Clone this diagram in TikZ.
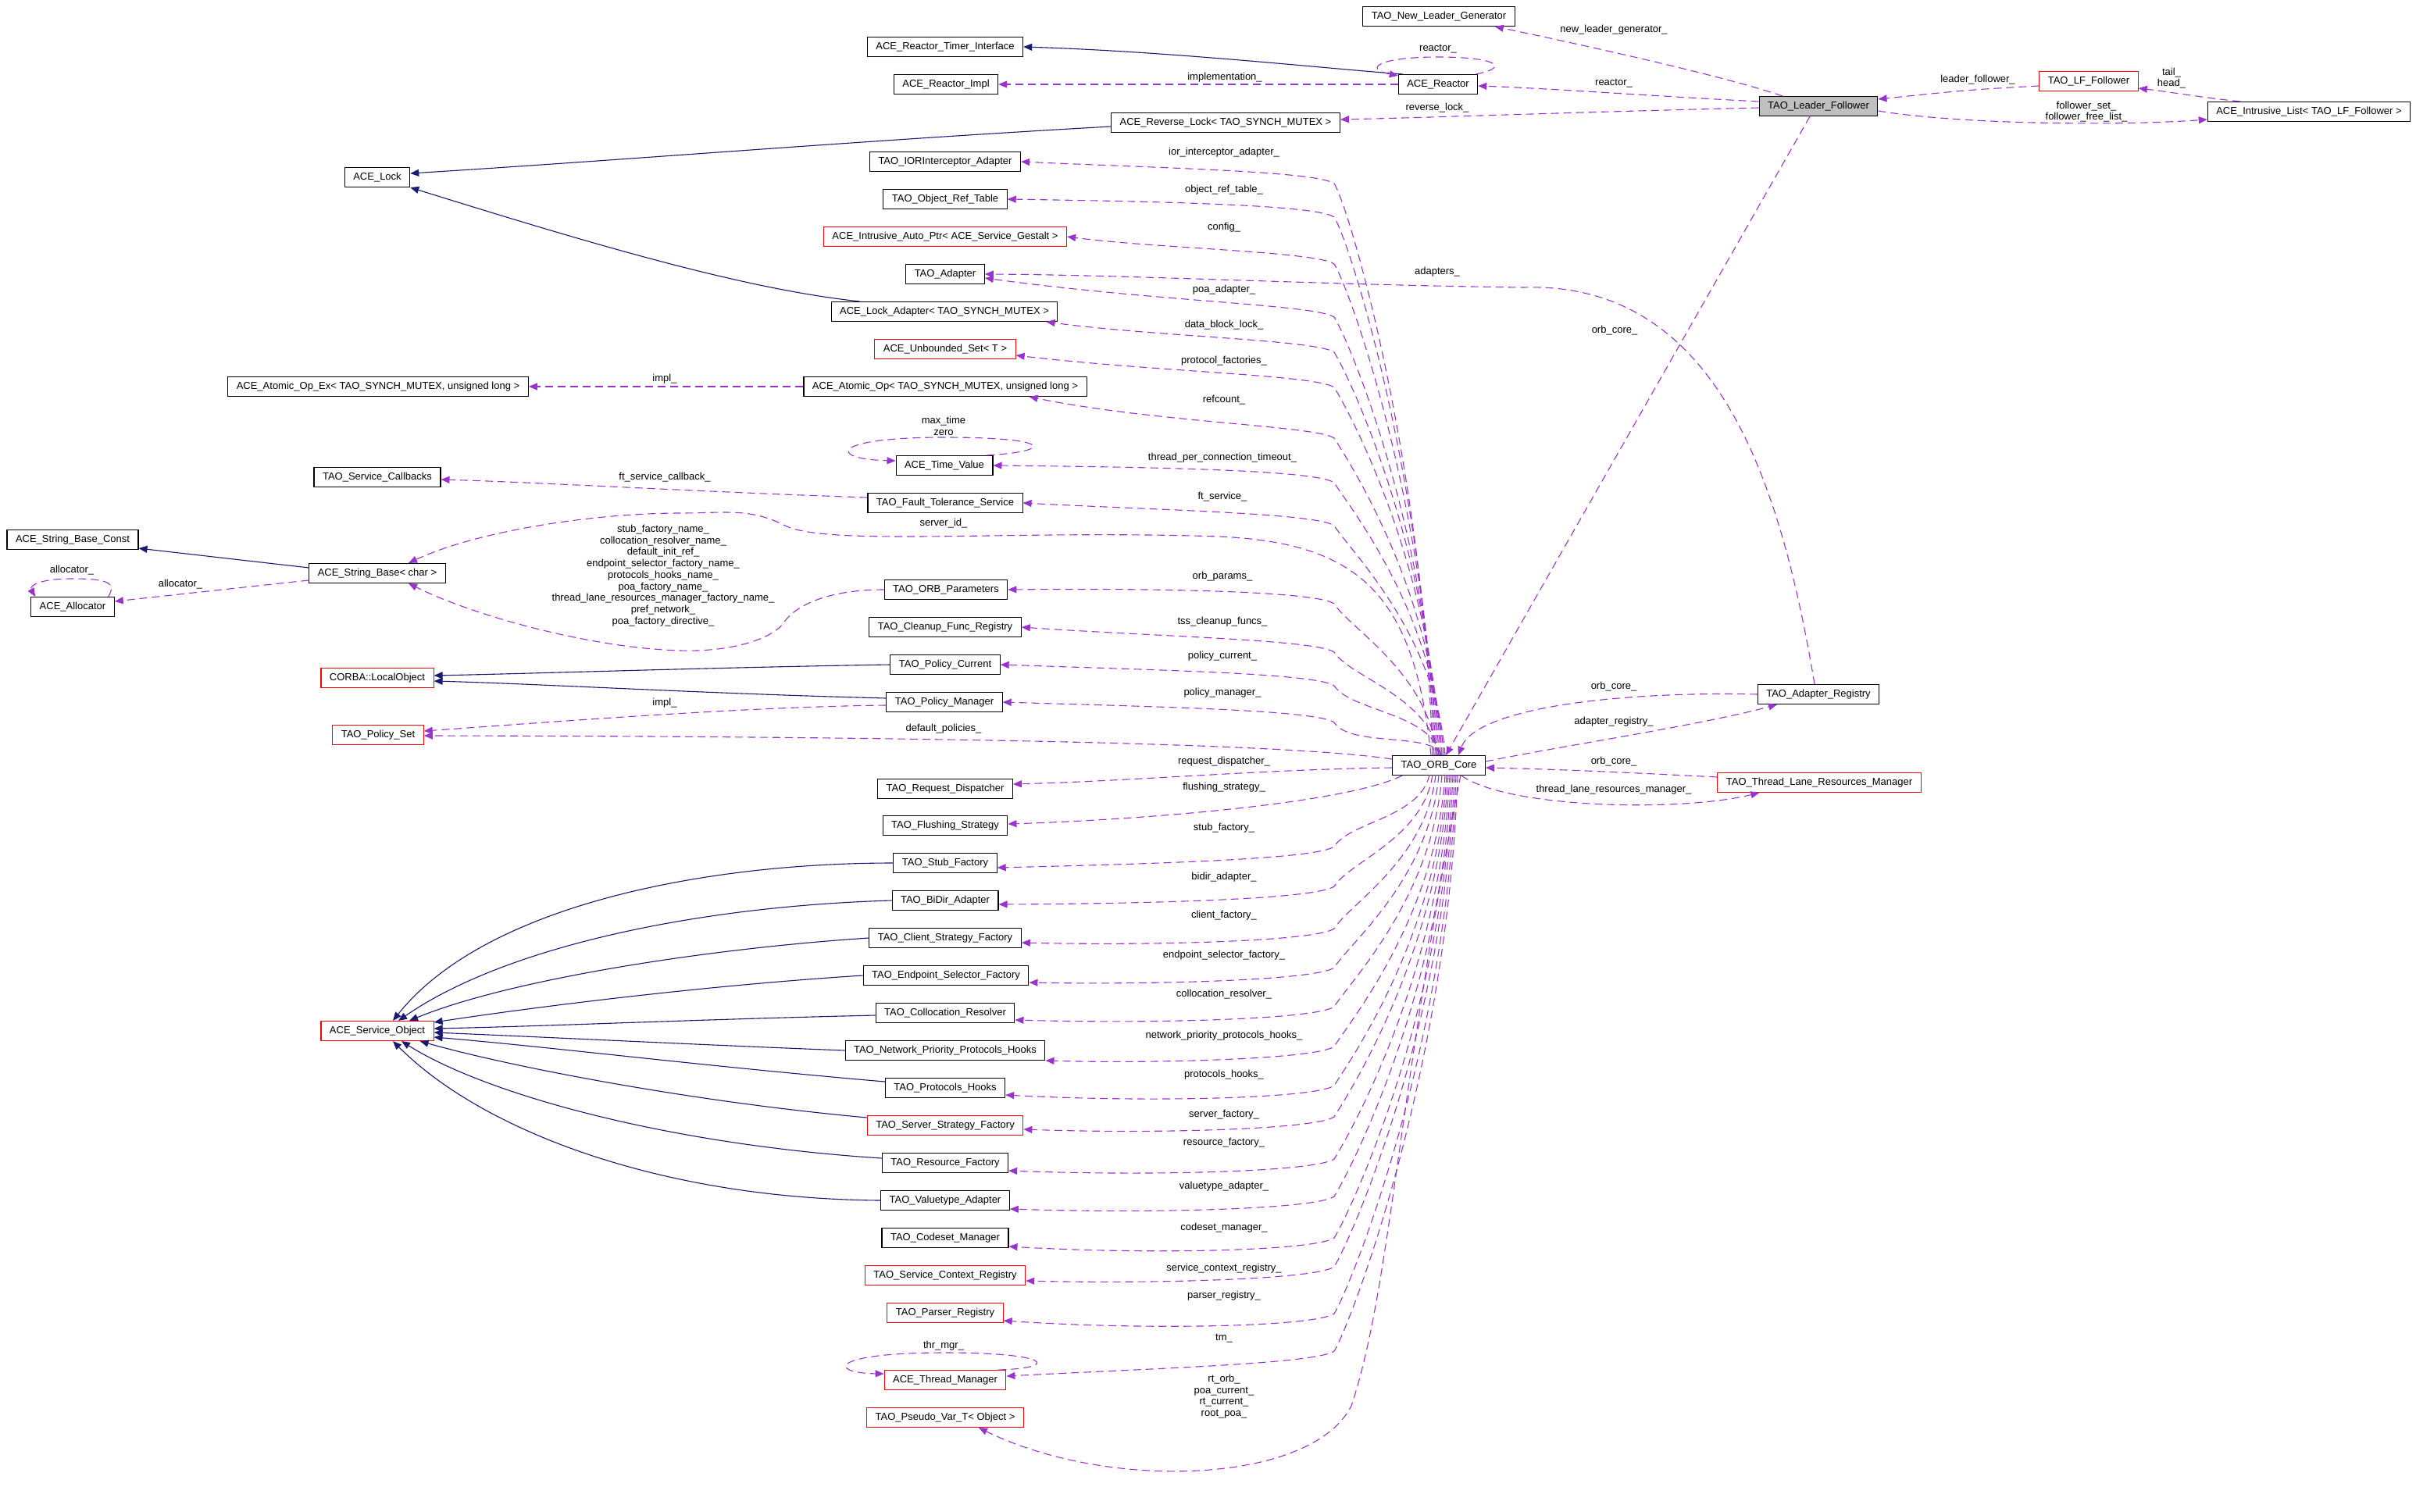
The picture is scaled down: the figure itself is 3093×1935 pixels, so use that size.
\documentclass[tikz,border=0pt]{standalone}
\usepackage{fontspec}
\setmainfont{Liberation Sans}
\usepackage{xcolor}
\usetikzlibrary{arrows.meta, calc}

\definecolor{inhblue}{HTML}{191970}
\definecolor{mempurple}{HTML}{9A32CD}
\definecolor{lfgray}{HTML}{BFBFBF}

\begin{document}
\begin{tikzpicture}[
    x=1pt, y=-1pt,
    box/.style={draw, rectangle, fill=white, line width=1.1pt, minimum height=25pt, inner xsep=11pt, inner ysep=2pt, font=\fontsize{13}{15}\selectfont},
    redbox/.style={box, draw=red},
    inherit/.style={-{Triangle[length=11pt, width=9pt]}, draw=inhblue, line width=1.1pt},
    member/.style={-{Triangle[length=11pt, width=9pt]}, draw=mempurple, line width=1.1pt, dash pattern=on 10pt off 6pt},
    lbl/.style={font=\fontsize{13}{14.7}\selectfont, inner sep=0pt, align=center, text=black},
]
\useasboundingbox (0,0) rectangle (3093,1935);

% Leader/follower group
\node[box, fill=lfgray] (lf) at (2328,136) {TAO\_Leader\_Follower};
\node[redbox] (lff) at (2674,104) {TAO\_LF\_Follower};
\node[box] (ilist) at (2956,143) {ACE\_Intrusive\_List< TAO\_LF\_Follower >};
\node[box] (nlg) at (1842,21) {TAO\_New\_Leader\_Generator};

% Reactor and locks
\node[box] (timer) at (1210,60) {ACE\_Reactor\_Timer\_Interface};
\node[box] (reactorimpl) at (1211,108) {ACE\_Reactor\_Impl};
\node[box] (reactor) at (1841,108) {ACE\_Reactor};
\node[box] (revlock) at (1569,157) {ACE\_Reverse\_Lock< TAO\_SYNCH\_MUTEX >};
\node[box] (lock) at (483,227) {ACE\_Lock};

% Members of the ORB core (upper column)
\node[box] (iorint) at (1210,207) {TAO\_IORInterceptor\_Adapter};
\node[box] (oref) at (1210,255) {TAO\_Object\_Ref\_Table};
\node[redbox] (gestalt) at (1210,303) {ACE\_Intrusive\_Auto\_Ptr< ACE\_Service\_Gestalt >};
\node[box] (adapter) at (1210,351) {TAO\_Adapter};
\node[box] (lockad) at (1209,399) {ACE\_Lock\_Adapter< TAO\_SYNCH\_MUTEX >};
\node[redbox] (uset) at (1210,447) {ACE\_Unbounded\_Set< T >};
\node[box] (atomicex) at (484,495) {ACE\_Atomic\_Op\_Ex< TAO\_SYNCH\_MUTEX, unsigned long >};
\node[box] (atomic) at (1210,495) {ACE\_Atomic\_Op< TAO\_SYNCH\_MUTEX, unsigned long >};
\node[box] (tv) at (1209,596) {ACE\_Time\_Value};
\node[box] (svccb) at (483,611) {TAO\_Service\_Callbacks};
\node[box] (fts) at (1210,644) {TAO\_Fault\_Tolerance\_Service};
\node[box] (sbconst) at (93,691) {ACE\_String\_Base\_Const};
\node[box] (sbase) at (483,734) {ACE\_String\_Base< char >};
\node[box] (alloc) at (93,777) {ACE\_Allocator};
\node[box] (orbp) at (1211,755) {TAO\_ORB\_Parameters};
\node[box] (cleanup) at (1210,803) {TAO\_Cleanup\_Func\_Registry};
\node[redbox] (lobj) at (483,868) {CORBA::LocalObject};
\node[box] (pcur) at (1210,851) {TAO\_Policy\_Current};
\node[box] (pman) at (1209,899) {TAO\_Policy\_Manager};
\node[redbox] (pset) at (484,941) {TAO\_Policy\_Set};

% ORB core and its neighbours on the right
\node[box] (orb) at (1842,980) {TAO\_ORB\_Core};
\node[box] (areg) at (2328,889) {TAO\_Adapter\_Registry};
\node[redbox] (tlrm) at (2329,1002) {TAO\_Thread\_Lane\_Resources\_Manager};

% Members of the ORB core (lower column)
\node[box] (reqd) at (1210,1010) {TAO\_Request\_Dispatcher};
\node[box] (flush) at (1210,1057) {TAO\_Flushing\_Strategy};
\node[box] (stub) at (1210,1105) {TAO\_Stub\_Factory};
\node[box] (bidir) at (1210,1153) {TAO\_BiDir\_Adapter};
\node[box] (csf) at (1210,1201) {TAO\_Client\_Strategy\_Factory};
\node[box] (esf) at (1211,1249) {TAO\_Endpoint\_Selector\_Factory};
\node[box] (colres) at (1210,1297) {TAO\_Collocation\_Resolver};
\node[redbox] (so) at (483,1320) {ACE\_Service\_Object};
\node[box] (nph) at (1210,1345) {TAO\_Network\_Priority\_Protocols\_Hooks};
\node[box] (ph) at (1210,1393) {TAO\_Protocols\_Hooks};
\node[redbox] (ssf) at (1210,1441) {TAO\_Server\_Strategy\_Factory};
\node[box] (rf) at (1210,1489) {TAO\_Resource\_Factory};
\node[box] (vta) at (1210,1537) {TAO\_Valuetype\_Adapter};
\node[box] (csm) at (1210,1585) {TAO\_Codeset\_Manager};
\node[redbox] (scr) at (1210,1633) {TAO\_Service\_Context\_Registry};
\node[redbox] (parser) at (1210,1681) {TAO\_Parser\_Registry};
\node[redbox] (thrmgr) at (1210,1767) {ACE\_Thread\_Manager};
\node[redbox] (pseudo) at (1210,1815) {TAO\_Pseudo\_Var\_T< Object >};

% Inheritance
\draw[inherit] ($(reactor.north west)+(6,0)$) .. controls (1700,88) and (1500,66) .. (timer.east);
\draw[inherit] ($(revlock.west)+(0,5)$) .. controls (1100,180) and (800,205) .. ($(lock.east)+(0,-5)$);
\draw[inherit] ($(lockad.north west)+(37,0)$) .. controls (950,370) and (750,310) .. (lock.south east);
\draw[inherit] ($(sbase.north west)+(0,6)$) -- ($(sbconst.south east)+(0,-2)$);
\draw[inherit] (pcur.west) .. controls (900,855) and (700,862) .. ($(lobj.east)+(0,-3)$);
\draw[inherit] ($(pman.west)+(0,-5)$) .. controls (900,888) and (700,876) .. ($(lobj.east)+(0,4)$);
\draw[inherit] (stub.west) .. controls (900,1105) and (620,1160) .. ($(so.north)+(20,0)$);
\draw[inherit] (bidir.west) .. controls (900,1160) and (650,1210) .. ($(so.north)+(27,0)$);
\draw[inherit] (csf.west) .. controls (900,1215) and (650,1255) .. ($(so.north)+(41,0)$);
\draw[inherit] (esf.west) .. controls (900,1262) and (680,1290) .. ($(so.east)+(0,-11)$);
\draw[inherit] ($(colres.west)+(0,3)$) .. controls (900,1305) and (700,1314) .. ($(so.east)+(0,-3)$);
\draw[inherit] (nph.west) .. controls (900,1338) and (700,1328) .. ($(so.east)+(0,2)$);
\draw[inherit] ($(ph.west)+(0,-8)$) .. controls (900,1365) and (700,1340) .. ($(so.east)+(0,8)$);
\draw[inherit] ($(ssf.west)+(0,-10)$) .. controls (880,1410) and (650,1365) .. ($(so.south east)+(-18,0)$);
\draw[inherit] ($(rf.west)+(0,-6)$) .. controls (850,1465) and (620,1400) .. ($(so.south)+(31,0)$);
\draw[inherit] (vta.west) .. controls (850,1535) and (620,1450) .. ($(so.south)+(20,0)$);

% Leader/follower members
\draw[member] ($(lf.north)+(-46,0)$) .. controls (2200,95) and (2000,52) .. ($(nlg.south east)+(-26,0)$) node[lbl] at (2066,38) {new\_leader\_generator\_};
\draw[member] ($(lf.west)+(0,-6)$) .. controls (2100,122) and (1980,113) .. ($(reactor.east)+(0,2)$) node[lbl] at (2066,107) {reactor\_};
\draw[member] ($(lf.west)+(0,2)$) .. controls (2000,144) and (1850,150) .. ($(revlock.east)+(0,-4)$) node[lbl] at (1840,138) {reverse\_lock\_};
\draw[member] ($(lf.south)+(-11,0)$) -- ($(orb.north)+(9,0)$) node[lbl] at (2067,423) {orb\_core\_};
\draw[member] ($(lff.west)+(0,6)$) .. controls (2520,115) .. ($(lf.east)+(0,-9)$) node[lbl] at (2532,102) {leader\_follower\_};
\draw[member] ($(lf.east)+(0,6)$) .. controls (2500,158) and (2700,162) .. ($(ilist.west)+(0,10)$) node[lbl] at (2671,143) {follower\_set\_\\follower\_free\_list\_};
\draw[member] ($(ilist.north west)+(42,0)$) .. controls (2820,125) and (2780,118) .. ($(lff.east)+(0,9)$) node[lbl] at (2780,100) {tail\_\\head\_};

% Reactor members
\draw[member] (reactor.west) -- (reactorimpl.east) node[lbl] at (1568,99) {implementation\_};
\draw[member] ($(reactor.north east)+(-3,0)$) .. controls (1935,86) and (1915,73) .. (1841,73) .. controls (1765,73) and (1745,88) .. ($(reactor.north west)+(0,2)$) node[lbl] at (1841,63) {reactor\_};

% ORB core members, upper column
\draw[member] (1834,967) .. controls (1822,592) and (1728,267) .. (1708,235) .. controls (1685,219) and (1480,215) .. (iorint.east) node[lbl] at (1567,195) {ior\_interceptor\_adapter\_};
\draw[member] (1836,967) .. controls (1824,614) and (1728,310) .. (1708,278) .. controls (1685,262) and (1480,258) .. (oref.east) node[lbl] at (1567,243) {object\_ref\_table\_};
\draw[member] (1838,967) .. controls (1826,644) and (1728,370) .. (1708,338) .. controls (1685,322) and (1480,318) .. (gestalt.east) node[lbl] at (1567,291) {config\_};
\draw[member] (1840,967) .. controls (1828,678) and (1728,438) .. (1708,406) .. controls (1685,390) and (1480,386) .. ($(adapter.east)+(0,5)$) node[lbl] at (1567,371) {poa\_adapter\_};
\draw[member] (1842,967) .. controls (1830,700) and (1728,483) .. (1708,451) .. controls (1685,435) and (1480,431) .. ($(lockad.south east)+(-15,0)$) node[lbl] at (1567,416) {data\_block\_lock\_};
\draw[member] (1844,967) .. controls (1832,722) and (1728,528) .. (1708,496) .. controls (1685,480) and (1480,476) .. ($(uset.east)+(0,8)$) node[lbl] at (1567,462) {protocol\_factories\_};
\draw[member] (1846,967) .. controls (1834,755) and (1728,593) .. (1708,561) .. controls (1685,545) and (1480,541) .. ($(atomic.south east)+(-74,0)$) node[lbl] at (1567,512) {refcount\_};
\draw[member] (1848,967) .. controls (1836,783) and (1728,650) .. (1708,618) .. controls (1685,602) and (1480,598) .. (tv.east) node[lbl] at (1565,586) {thread\_per\_connection\_timeout\_};
\draw[member] (1850,967) .. controls (1838,811) and (1728,705) .. (1708,673) .. controls (1685,657) and (1480,653) .. (fts.east) node[lbl] at (1565,636) {ft\_service\_};
\draw[member] (1840,967) .. controls (1828,861) and (1728,805) .. (1708,773) .. controls (1685,757) and (1480,753) .. (orbp.east) node[lbl] at (1565,738) {orb\_params\_};
\draw[member] (1842,967) .. controls (1830,892) and (1728,867) .. (1708,835) .. controls (1685,819) and (1480,815) .. (cleanup.east) node[lbl] at (1565,796) {tss\_cleanup\_funcs\_};
\draw[member] (1844,967) .. controls (1832,913) and (1728,910) .. (1708,878) .. controls (1685,862) and (1480,858) .. (pcur.east) node[lbl] at (1565,840) {policy\_current\_};
\draw[member] (1846,967) .. controls (1834,937) and (1728,957) .. (1708,925) .. controls (1685,909) and (1480,905) .. (pman.east) node[lbl] at (1565,887) {policy\_manager\_};
\draw[member] (1832,967) .. controls (1810,760) and (1740,695) .. (1560,687) .. controls (1300,678) and (1060,700) .. (1005,673) .. controls (960,650) and (930,657) .. (871,657) .. controls (760,657) and (610,680) .. ($(sbase.north)+(40,0)$) node[lbl] at (1208,670) {server\_id\_};
\draw[member] ($(orb.west)+(0,-8)$) .. controls (1650,952) and (1200,943) .. ($(pset.east)+(0,1)$) node[lbl] at (1208,933) {default\_policies\_};

% Other members on the left
\draw[member] (atomic.west) -- (atomicex.east) node[lbl] at (851,485) {impl\_};
\draw[member] ($(tv.north east)+(-8,0)$) .. controls (1350,578) and (1350,560) .. (1209,560) .. controls (1060,560) and (1060,588) .. ($(tv.west)+(0,-6)$) node[lbl] at (1208,545) {max\_time\\zero};
\draw[member] ($(fts.west)+(0,-7)$) .. controls (900,630) and (700,618) .. ($(svccb.east)+(0,3)$) node[lbl] at (851,611) {ft\_service\_callback\_};
\draw[member] (orbp.west) .. controls (1060,755) and (1020,775) .. (1005,795) .. controls (990,820) and (930,835) .. (871,833) .. controls (760,830) and (610,790) .. ($(sbase.south)+(40,0)$) node[lbl] at (849,737) {stub\_factory\_name\_\\collocation\_resolver\_name\_\\default\_init\_ref\_\\endpoint\_selector\_factory\_name\_\\protocols\_hooks\_name\_\\poa\_factory\_name\_\\thread\_lane\_resources\_manager\_factory\_name\_\\pref\_network\_\\poa\_factory\_directive\_};
\draw[member] ($(sbase.west)+(0,9)$) .. controls (330,750) and (220,762) .. ($(alloc.east)+(0,-7)$) node[lbl] at (231,748) {allocator\_};
\draw[member] ($(alloc.north east)+(-8,0)$) .. controls (150,745) and (135,741) .. (92,741) .. controls (45,741) and (38,752) .. ($(alloc.north west)+(6,0)$) node[lbl] at (92,730) {allocator\_};
\draw[member] ($(pman.west)+(0,4)$) .. controls (950,905) and (700,925) .. ($(pset.east)+(0,-5)$) node[lbl] at (851,900) {impl\_};

% Adapter registry and thread lane resources
\draw[member] ($(areg.north)+(-5,0)$) .. controls (2280,620) and (2200,360) .. (1950,368) .. controls (1700,365) and (1450,352) .. (adapter.east) node[lbl] at (1840,348) {adapters\_};
\draw[member] (areg.west) .. controls (2080,885) and (1890,905) .. ($(orb.north)+(25,0)$) node[lbl] at (2066,879) {orb\_core\_};
\draw[member] ($(orb.east)+(0,-5)$) .. controls (2000,955) and (2180,928) .. ($(areg.south)+(-53,0)$) node[lbl] at (2066,924) {adapter\_registry\_};
\draw[member] ($(tlrm.west)+(0,-7)$) .. controls (2100,990) and (2000,985) .. ($(orb.east)+(0,3)$) node[lbl] at (2066,975) {orb\_core\_};
\draw[member] ($(orb.south east)+(-31,0)$) .. controls (1930,1035) and (2150,1040) .. ($(tlrm.south west)+(54,0)$) node[lbl] at (2066,1011) {thread\_lane\_resources\_manager\_};

% ORB core members, lower column
\draw[member] ($(orb.west)+(0,3)$) .. controls (1620,985) and (1450,1000) .. ($(reqd.east)+(0,-6)$) node[lbl] at (1567,975) {request\_dispatcher\_};
\draw[member] ($(orb.south west)+(13,0)$) .. controls (1720,1030) and (1450,1050) .. ($(flush.east)+(0,-2)$) node[lbl] at (1567,1008) {flushing\_strategy\_};
\draw[member] (1830,992) .. controls (1818,1047) and (1728,1052) .. (1708,1084) .. controls (1685,1100) and (1480,1106) .. ($(stub.east)+(0,6)$) node[lbl] at (1567,1060) {stub\_factory\_};
\draw[member] (1834,992) .. controls (1822,1073) and (1728,1103) .. (1708,1135) .. controls (1685,1151) and (1480,1157) .. ($(bidir.east)+(0,5)$) node[lbl] at (1567,1123) {bidir\_adapter\_};
\draw[member] (1838,992) .. controls (1826,1100) and (1728,1157) .. (1708,1189) .. controls (1685,1205) and (1480,1211) .. ($(csf.east)+(0,6)$) node[lbl] at (1567,1172) {client\_factory\_};
\draw[member] (1842,992) .. controls (1830,1125) and (1728,1207) .. (1708,1239) .. controls (1685,1255) and (1480,1261) .. ($(esf.east)+(0,9)$) node[lbl] at (1567,1223) {endpoint\_selector\_factory\_};
\draw[member] (1846,992) .. controls (1834,1150) and (1728,1257) .. (1708,1289) .. controls (1685,1305) and (1480,1311) .. ($(colres.east)+(0,9)$) node[lbl] at (1567,1273) {collocation\_resolver\_};
\draw[member] (1850,992) .. controls (1838,1175) and (1728,1308) .. (1708,1340) .. controls (1685,1356) and (1480,1362) .. ($(nph.east)+(0,13)$) node[lbl] at (1567,1326) {network\_priority\_protocols\_hooks\_};
\draw[member] (1852,992) .. controls (1840,1200) and (1728,1358) .. (1708,1390) .. controls (1685,1406) and (1480,1412) .. ($(ph.east)+(0,9)$) node[lbl] at (1567,1376) {protocols\_hooks\_};
\draw[member] (1854,992) .. controls (1842,1220) and (1728,1398) .. (1708,1430) .. controls (1685,1446) and (1480,1452) .. ($(ssf.east)+(0,5)$) node[lbl] at (1567,1427) {server\_factory\_};
\draw[member] (1856,992) .. controls (1844,1247) and (1728,1452) .. (1708,1484) .. controls (1685,1500) and (1480,1506) .. ($(rf.east)+(0,10)$) node[lbl] at (1567,1463) {resource\_factory\_};
\draw[member] (1858,992) .. controls (1846,1271) and (1728,1500) .. (1708,1532) .. controls (1685,1548) and (1480,1554) .. ($(vta.east)+(0,11)$) node[lbl] at (1567,1519) {valuetype\_adapter\_};
\draw[member] (1860,992) .. controls (1848,1298) and (1728,1553) .. (1708,1585) .. controls (1685,1601) and (1480,1607) .. ($(csm.east)+(0,11)$) node[lbl] at (1567,1572) {codeset\_manager\_};
\draw[member] (1862,992) .. controls (1850,1316) and (1728,1590) .. (1708,1622) .. controls (1685,1638) and (1480,1644) .. ($(scr.east)+(0,7)$) node[lbl] at (1567,1624) {service\_context\_registry\_};
\draw[member] (1864,992) .. controls (1852,1346) and (1728,1650) .. (1708,1682) .. controls (1685,1698) and (1480,1704) .. ($(parser.east)+(0,10)$) node[lbl] at (1567,1659) {parser\_registry\_};
\draw[member] (1866,992) .. controls (1854,1370) and (1728,1698) .. (1708,1730) .. controls (1685,1746) and (1480,1752) .. ($(thrmgr.east)+(0,-5)$) node[lbl] at (1567,1714) {tm\_};
\draw[member] ($(thrmgr.north east)+(-10,0)$) .. controls (1355,1752) and (1350,1732) .. (1209,1732) .. controls (1060,1732) and (1060,1758) .. ($(thrmgr.west)+(0,-8)$) node[lbl] at (1208,1723) {thr\_mgr\_};
\draw[member] (1870,992) .. controls (1790,1400) and (1780,1650) .. (1730,1800) .. controls (1680,1900) and (1420,1910) .. ($(pseudo.south)+(43,0)$) node[lbl] at (1567,1788) {rt\_orb\_\\poa\_current\_\\rt\_current\_\\root\_poa\_};

\end{tikzpicture}
\end{document}
